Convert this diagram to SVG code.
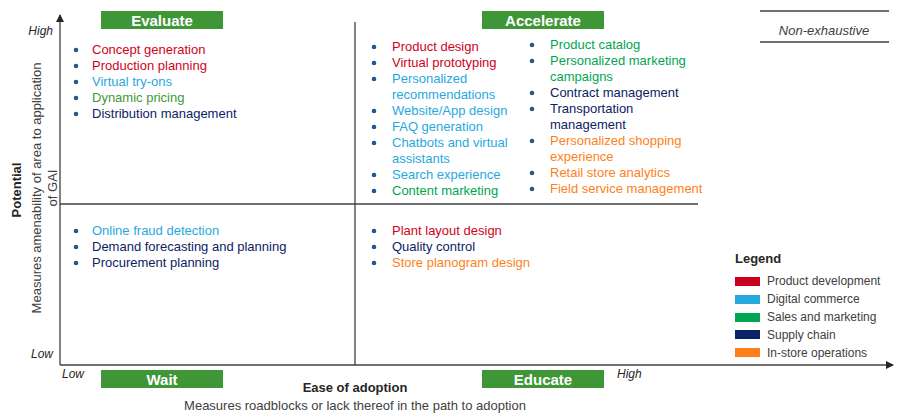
<svg xmlns="http://www.w3.org/2000/svg" width="903" height="419" viewBox="0 0 903 419">
<style>
text{font-family:"Liberation Sans",Arial,sans-serif;font-size:13px}
.ax{stroke:#404040;stroke-width:1.3;fill:none}
.q{fill:#3e9637}
.ql{fill:#fff;font-weight:bold;font-size:15px;text-anchor:middle}
.b{fill:#1f5a96}
.r{fill:#d0021b}.lb{fill:#29a8e0}.g{fill:#00a651}.dg{fill:#3d9a35}.n{fill:#0b2265}.o{fill:#ff7f1a}
.it{font-style:italic;font-size:12px;fill:#262626}
.lg{font-size:12px;fill:#404040}
</style>
<defs><marker id="ar" markerWidth="8" markerHeight="8" refX="7" refY="4" orient="auto" markerUnits="userSpaceOnUse"><path d="M0,0L8,4L0,8z" fill="#262626"/></marker></defs>
<g id="connectors">
<line class="ax" x1="60" y1="365" x2="60" y2="15" marker-end="url(#ar)"/>
<line class="ax" x1="60" y1="365" x2="893" y2="365" marker-end="url(#ar)"/>
<line class="ax" x1="355" y1="22" x2="355" y2="365"/>
<line class="ax" x1="60" y1="204" x2="698" y2="204"/>
</g>
<g id="labels">
<rect class="q" x="101" y="11" width="122" height="18"/><text class="ql" x="162" y="26">Evaluate</text>
<rect class="q" x="482" y="11" width="122" height="18"/><text class="ql" x="543" y="26">Accelerate</text>
<rect class="q" x="101" y="370" width="122" height="18"/><text class="ql" x="162" y="385">Wait</text>
<rect class="q" x="482" y="370" width="122" height="18"/><text class="ql" x="543" y="385">Educate</text>
<text class="it" x="53" y="35" text-anchor="end">High</text>
<text class="it" x="53" y="358" text-anchor="end">Low</text>
<text class="it" x="62" y="378">Low</text>
<text class="it" x="617" y="378">High</text>
<text x="355" y="392" text-anchor="middle" font-weight="bold" font-size="14" fill="#262626">Ease of adoption</text>
<text x="355" y="410" text-anchor="middle" fill="#404040">Measures roadblocks or lack thereof in the path to adoption</text>
<text transform="translate(21,190) rotate(-90)" text-anchor="middle" font-weight="bold" font-size="14" fill="#262626">Potential</text>
<text transform="translate(41,188) rotate(-90)" text-anchor="middle" font-size="14" fill="#404040">Measures amenability of area to application</text>
<text transform="translate(57,188) rotate(-90)" text-anchor="middle" font-size="14" fill="#404040">of GAI</text>
<line x1="760" y1="11" x2="889" y2="11" stroke="#404040" stroke-width="1.3"/>
<line x1="760" y1="42" x2="889" y2="42" stroke="#404040" stroke-width="1.3"/>
<text x="824" y="35" text-anchor="middle" font-style="italic" font-size="17" fill="#404040">Non-exhaustive</text>
</g>
<g id="evaluate">
<g class="b"><circle cx="76" cy="50" r="2.3"/><circle cx="76" cy="66" r="2.3"/><circle cx="76" cy="82" r="2.3"/><circle cx="76" cy="98" r="2.3"/><circle cx="76" cy="114" r="2.3"/></g>
<text class="r" x="92" y="54">Concept generation</text>
<text class="r" x="92" y="70">Production planning</text>
<text class="lb" x="92" y="86">Virtual try-ons</text>
<text class="dg" x="92" y="102">Dynamic pricing</text>
<text class="n" x="92" y="118">Distribution management</text>
</g>
<g id="accelerate">
<g class="b"><circle cx="374" cy="47" r="2.3"/><circle cx="374" cy="63" r="2.3"/><circle cx="374" cy="79" r="2.3"/><circle cx="374" cy="111" r="2.3"/><circle cx="374" cy="127" r="2.3"/><circle cx="374" cy="143" r="2.3"/><circle cx="374" cy="175" r="2.3"/><circle cx="374" cy="191" r="2.3"/>
<circle cx="532" cy="45" r="2.3"/><circle cx="532" cy="61" r="2.3"/><circle cx="532" cy="93" r="2.3"/><circle cx="532" cy="109" r="2.3"/><circle cx="532" cy="141" r="2.3"/><circle cx="532" cy="173" r="2.3"/><circle cx="532" cy="189" r="2.3"/></g>
<text class="r" x="392" y="51">Product design</text>
<text class="r" x="392" y="67">Virtual prototyping</text>
<text class="lb" x="392" y="83">Personalized</text>
<text class="lb" x="392" y="99">recommendations</text>
<text class="lb" x="392" y="115">Website/App design</text>
<text class="lb" x="392" y="131">FAQ generation</text>
<text class="lb" x="392" y="147">Chatbots and virtual</text>
<text class="lb" x="392" y="163">assistants</text>
<text class="lb" x="392" y="179">Search experience</text>
<text class="g" x="392" y="195">Content marketing</text>
<text class="g" x="550" y="49">Product catalog</text>
<text class="g" x="550" y="65">Personalized marketing</text>
<text class="g" x="550" y="81">campaigns</text>
<text class="n" x="550" y="97">Contract management</text>
<text class="n" x="550" y="113">Transportation</text>
<text class="n" x="550" y="129">management</text>
<text class="o" x="550" y="145">Personalized shopping</text>
<text class="o" x="550" y="161">experience</text>
<text class="o" x="550" y="177">Retail store analytics</text>
<text class="o" x="550" y="193">Field service management</text>
</g>
<g id="wait">
<g class="b"><circle cx="76" cy="231" r="2.3"/><circle cx="76" cy="247" r="2.3"/><circle cx="76" cy="263" r="2.3"/></g>
<text class="lb" x="92" y="235">Online fraud detection</text>
<text class="n" x="92" y="251">Demand forecasting and planning</text>
<text class="n" x="92" y="267">Procurement planning</text>
</g>
<g id="educate">
<g class="b"><circle cx="374" cy="231" r="2.3"/><circle cx="374" cy="247" r="2.3"/><circle cx="374" cy="263" r="2.3"/></g>
<text class="r" x="392" y="235">Plant layout design</text>
<text class="n" x="392" y="251">Quality control</text>
<text class="o" x="392" y="267">Store planogram design</text>
</g>
<g id="legend">
<text x="735" y="263" font-weight="bold" font-size="12" fill="#262626">Legend</text>
<rect x="735" y="277" width="25" height="9" fill="#c8001e"/><text class="lg" x="767" y="285">Product development</text>
<rect x="735" y="295" width="25" height="9" fill="#29a8e0"/><text class="lg" x="767" y="303">Digital commerce</text>
<rect x="735" y="313" width="25" height="9" fill="#00a651"/><text class="lg" x="767" y="321">Sales and marketing</text>
<rect x="735" y="330" width="25" height="9" fill="#0b2265"/><text class="lg" x="767" y="339">Supply chain</text>
<rect x="735" y="348" width="25" height="9" fill="#ff7f1a"/><text class="lg" x="767" y="357">In-store operations</text>
</g>
</svg>
